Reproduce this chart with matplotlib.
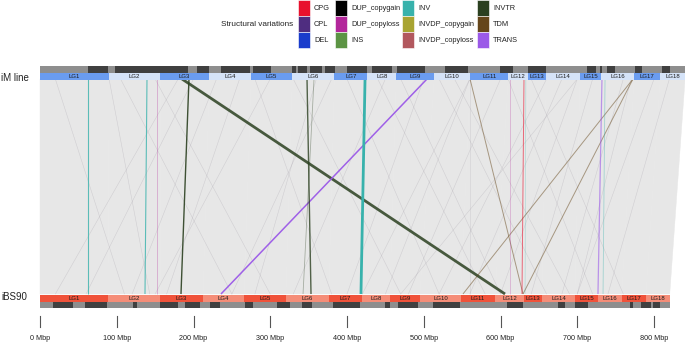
import matplotlib
matplotlib.use("Agg")
from matplotlib import pyplot as plt
from matplotlib.patches import Rectangle, Polygon

plt.rcParams['font.family'] = ['Liberation Sans', 'DejaVu Sans']

# chromosome sizes in Mbp
chroms = ['LG%d' % i for i in range(1, 19)]
top_sizes = [90, 66.5, 64, 54.5, 53.5, 55, 43, 37.5, 49.5, 47, 49.5, 26, 23.5, 44, 28, 42.5, 34, 32.5]
bottom_sizes = [88.5, 68, 56, 53.5, 54.5, 56, 43, 36.5, 39, 53.5, 44.5, 37.5, 23.5, 43, 30, 31, 31.5, 31]

# dark blocks of the gray tracks (Mbp)
top_dark = [(62.5, 88.6), (97.7, 192.8), (204.6, 220.2), (235.8, 273.6), (277.5, 300.8),
            (328.3, 333.6), (336.2, 347.9), (351.5, 367.4), (371.3, 384.4), (400.0, 426.1),
            (432.6, 458.6), (465.1, 501.6), (527.7, 557.7), (599.3, 616.3), (635.8, 659.3),
            (712.7, 724.4), (729.6, 732.2), (738.8, 749.2), (775.2, 784.4), (810.4, 820.8)]
bottom_dark = [(16.9, 43.0), (58.6, 87.3), (121.2, 126.4), (156.4, 179.8), (188.9, 208.5),
               (221.5, 234.5), (267.1, 277.5), (308.8, 325.7), (341.4, 354.4), (381.8, 417.0),
               (449.5, 456.0), (466.4, 492.5), (512.1, 547.2), (608.5, 629.3), (674.9, 684.0),
               (697.1, 714.0), (768.1, 772.0), (783.7, 796.7), (799.3, 807.2)]

sv_types = ['CPG', 'CPL', 'DEL', 'DUP_copygain', 'DUP_copyloss', 'INS',
            'INV', 'INVDP_copygain', 'INVDP_copyloss', 'INVTR', 'TDM', 'TRANS']
sv_colors = ['#e8112d', '#4f2d80', '#1a3ccc', '#000000', '#b3279b', '#5c9444',
             '#38b2ac', '#a8a432', '#b2585e', '#2b4020', '#65461a', '#9b59e8']

# highlighted SVs: (type, top Mbp, bottom Mbp, width, alpha)
sv_links = [
    ('INV', 62.5, 62.5, 0.8, 0.8),
    ('INV', 139.4, 136.8, 0.8, 0.8),
    ('DUP_copyloss', 152.4, 152.4, 0.5, 0.4),
    ('INVTR', 194.1, 183.7, 1.0, 0.9),
    ('INVTR', 185.0, 605.9, 2.0, 0.85),
    ('TRANS', 504.2, 235.8, 1.1, 0.95),
    ('INVTR', 347.9, 353.1, 1.0, 0.8),
    ('INVTR', 357.0, 342.7, 0.6, 0.35),
    ('INV', 423.5, 418.2, 2.0, 1.0),
    ('TDM', 560.3, 629.3, 0.7, 0.5),
    ('TDM', 772.6, 551.1, 0.7, 0.5),
    ('TDM', 772.6, 629.3, 0.7, 0.5),
    ('CPG', 630.6, 628.0, 0.7, 0.6),
    ('DUP_copyloss', 612.4, 612.4, 0.5, 0.35),
    ('TRANS', 732.2, 727.0, 0.9, 0.6),
    ('INV', 736.2, 733.6, 0.6, 0.4),
    ('INV', 633.0, 632.0, 0.5, 0.3),
]

# faint background links (top Mbp, bottom Mbp)
faint_links = [(90, 143), (105, 250), (180, 20), (200, 60), (230, 120), (260, 165),
               (150, 300), (300, 150), (330, 470), (380, 250), (400, 520), (450, 330),
               (470, 600), (500, 400), (540, 690), (560, 450), (560, 420), (600, 480),
               (640, 760), (680, 560), (700, 600), (720, 640), (760, 680), (800, 700),
               (820, 740), (520, 660), (440, 580), (360, 280), (280, 380), (20, 110),
               (560, 560), (660, 520), (700, 470), (770, 700), (610, 720)]

ticks = [0, 100, 200, 300, 400, 500, 600, 700, 800]

X0 = 40
SCALE = 0.7675  # px per Mbp
Y_TOP = 79
Y_BOT = 294

fig = plt.figure(figsize=(6.85, 3.43), dpi=100)
ax = fig.add_axes([0, 0, 1, 1])
ax.set_xlim(-X0 / SCALE, (685 - X0) / SCALE)
ax.set_ylim(343, 0)
ax.axis('off')


def starts(sizes):
    out = [0]
    for s in sizes:
        out.append(out[-1] + s)
    return out


tb = starts(top_sizes)
bb = starts(bottom_sizes)

# synteny background
for i in range(len(chroms)):
    poly = Polygon([(tb[i], Y_TOP), (tb[i + 1], Y_TOP), (bb[i + 1], Y_BOT), (bb[i], Y_BOT)],
                   closed=True, facecolor='#e7e7e7', edgecolor='#e7e7e7', lw=0.3, zorder=1)
    ax.add_patch(poly)

for t, b in faint_links:
    ax.plot([t, b], [Y_TOP, Y_BOT], color='#9a94a0', lw=0.4, alpha=0.3, zorder=2)

col = dict(zip(sv_types, sv_colors))
for kind, t, b, w, a in sv_links:
    ax.plot([t, b], [Y_TOP, Y_BOT], color=col[kind], lw=w, alpha=a, zorder=3,
            solid_capstyle='butt')

# gray tracks
ax.add_patch(Rectangle((0, 66), tb[-1], 6.5, facecolor='#8e8e8e', lw=0, zorder=4))
for s, e in top_dark:
    ax.add_patch(Rectangle((s, 66), e - s, 6.5, facecolor='#404040', lw=0, zorder=5))
ax.add_patch(Rectangle((0, 301.5), bb[-1], 6.5, facecolor='#8e8e8e', lw=0, zorder=4))
for s, e in bottom_dark:
    ax.add_patch(Rectangle((s, 301.5), e - s, 6.5, facecolor='#404040', lw=0, zorder=5))

# chromosome bars
for i, name in enumerate(chroms):
    c = '#6a9cf0' if i % 2 == 0 else '#d5e3f8'
    ax.add_patch(Rectangle((tb[i], 72.5), top_sizes[i], 7, facecolor=c, lw=0, zorder=6))
    ax.text((tb[i] + tb[i + 1]) / 2, 76, name, ha='center', va='center', fontsize=4.3,
            color='#1a1a1a', zorder=7)
    c = '#f0523a' if i % 2 == 0 else '#f58d78'
    ax.add_patch(Rectangle((bb[i], 294.5), bottom_sizes[i], 7, facecolor=c, lw=0, zorder=6))
    ax.text((bb[i] + bb[i + 1]) / 2, 298, name, ha='center', va='center', fontsize=4.3,
            color='#1a1a1a', zorder=7)

# axis ticks
for t in ticks:
    ax.plot([t, t], [316, 327], color='#555555', lw=0.8)
    ax.text(t, 338, '%d Mbp' % t, ha='center', va='center', fontsize=5.2, color='#222222')

# genome names (pixel overlay)
ov = fig.add_axes([0, 0, 1, 1])
ov.set_xlim(0, 685)
ov.set_ylim(343, 0)
ov.axis('off')
ov.patch.set_alpha(0)
ov.text(1, 78, 'iM line', ha='left', va='center', fontsize=7, color='#222222')
ov.text(1, 297, 'iBS90', ha='left', va='center', fontsize=7, color='#222222')

# legend
ov.text(293, 25, 'Structural variations', ha='right', va='center', fontsize=5.9, color='#222222')
col_x = [298, 335, 402, 477]
row_y = [0, 16, 32]
for k, (name, c) in enumerate(zip(sv_types, sv_colors)):
    cx = col_x[k // 3]
    ry = row_y[k % 3]
    ov.add_patch(Rectangle((cx, ry), 12, 15.5, facecolor=c, edgecolor='white', lw=0.4))
    ov.text(cx + 16, ry + 8, name, ha='left', va='center', fontsize=5.3, color='#222222')

fig.savefig('out.png', dpi=100)
